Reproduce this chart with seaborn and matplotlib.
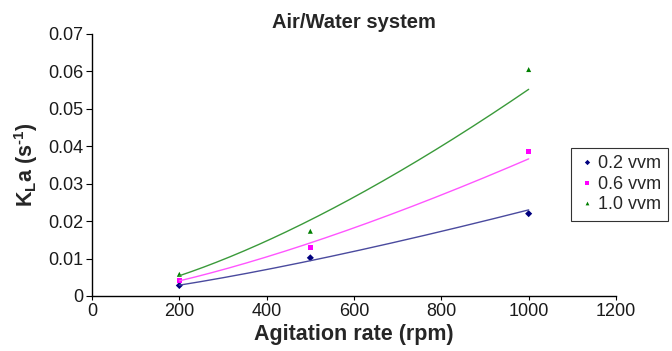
import numpy as np
import pandas as pd
import matplotlib
matplotlib.use("Agg")
import matplotlib.pyplot as plt
import seaborn as sns

# values
rpm = [200, 500, 1000]
kla_02 = [0.0028, 0.0102, 0.0220]
kla_06 = [0.0042, 0.0130, 0.0385]
kla_10 = [0.0058, 0.0173, 0.0605]
series = ["0.2 vvm", "0.6 vvm", "1.0 vvm"]

point_colors = ["#00007f", "#ff00ff", "#007f00"]
line_colors = ["#4a4a9e", "#ff55ff", "#3a9a3a"]
markers = ["D", "s", "^"]

sns.set_style("ticks")
plt.rcParams["font.family"] = ["Liberation Sans", "DejaVu Sans"]
plt.rcParams["mathtext.fontset"] = "custom"
plt.rcParams["mathtext.rm"] = "Liberation Sans:bold"
plt.rcParams["mathtext.bf"] = "Liberation Sans:bold"

points = pd.DataFrame({
    "rpm": rpm * 3,
    "kla": kla_02 + kla_06 + kla_10,
    "series": [s for s in series for _ in rpm],
})

# power trendlines (y = a * x^b) fitted to each series, like the spreadsheet trendline
xs = np.linspace(min(rpm), max(rpm), 200)
fits = []
for name, vals in zip(series, [kla_02, kla_06, kla_10]):
    b, loga = np.polyfit(np.log(rpm), np.log(vals), 1)
    fits.append(pd.DataFrame({"rpm": xs, "kla": np.exp(loga) * xs ** b, "series": name}))
fits = pd.concat(fits)

fig = plt.figure(figsize=(6.72, 3.51), dpi=100)
ax = fig.add_axes([92 / 672, 1 - 296 / 351, (616 - 92) / 672, (296 - 34) / 351])

sns.lineplot(data=fits, x="rpm", y="kla", hue="series", palette=line_colors,
             linewidth=1.0, legend=False, ax=ax)
sns.scatterplot(data=points, x="rpm", y="kla", hue="series", style="series",
                palette=point_colors, markers=markers, s=13, edgecolor="none",
                ax=ax)

ax.set_xlim(0, 1200)
ax.set_ylim(0, 0.07)
ax.set_xticks(np.arange(0, 1201, 200))
ax.set_yticks(np.arange(0, 0.0701, 0.01))
ax.set_yticklabels(["0"] + [f"{v:.2f}" for v in np.arange(0.01, 0.0701, 0.01)])
ax.tick_params(labelsize=13, length=4, width=0.8, color="black", labelcolor="#1a1a1a", pad=2)
ax.tick_params(axis="x", length=3)
for side in ["left", "bottom"]:
    ax.spines[side].set_linewidth(1.0)
    ax.spines[side].set_color("black")
sns.despine(ax=ax)

ax.set_xlabel("Agitation rate (rpm)", fontsize=15.5, fontweight="bold", labelpad=3)
ax.set_ylabel(r"K$_{\mathbf{L}}$a (s$^{\text{-1}}$)", fontsize=15.5, fontweight="bold", labelpad=6)
ax.set_title("Air/Water system", fontsize=14.5, fontweight="bold", pad=4)

handles, labels = ax.get_legend_handles_labels()
leg = ax.legend(handles, labels, loc="upper left", bbox_to_anchor=(571 / 672, 1 - 148 / 351),
                bbox_transform=fig.transFigure, fontsize=13, frameon=True, fancybox=False,
                handletextpad=0.1, borderpad=0.4, labelspacing=0.2, handlelength=1.0,
                markerscale=0.75, borderaxespad=0)
leg.get_frame().set_edgecolor("black")
leg.get_frame().set_linewidth(0.8)

fig.savefig("out.png", dpi=100)
